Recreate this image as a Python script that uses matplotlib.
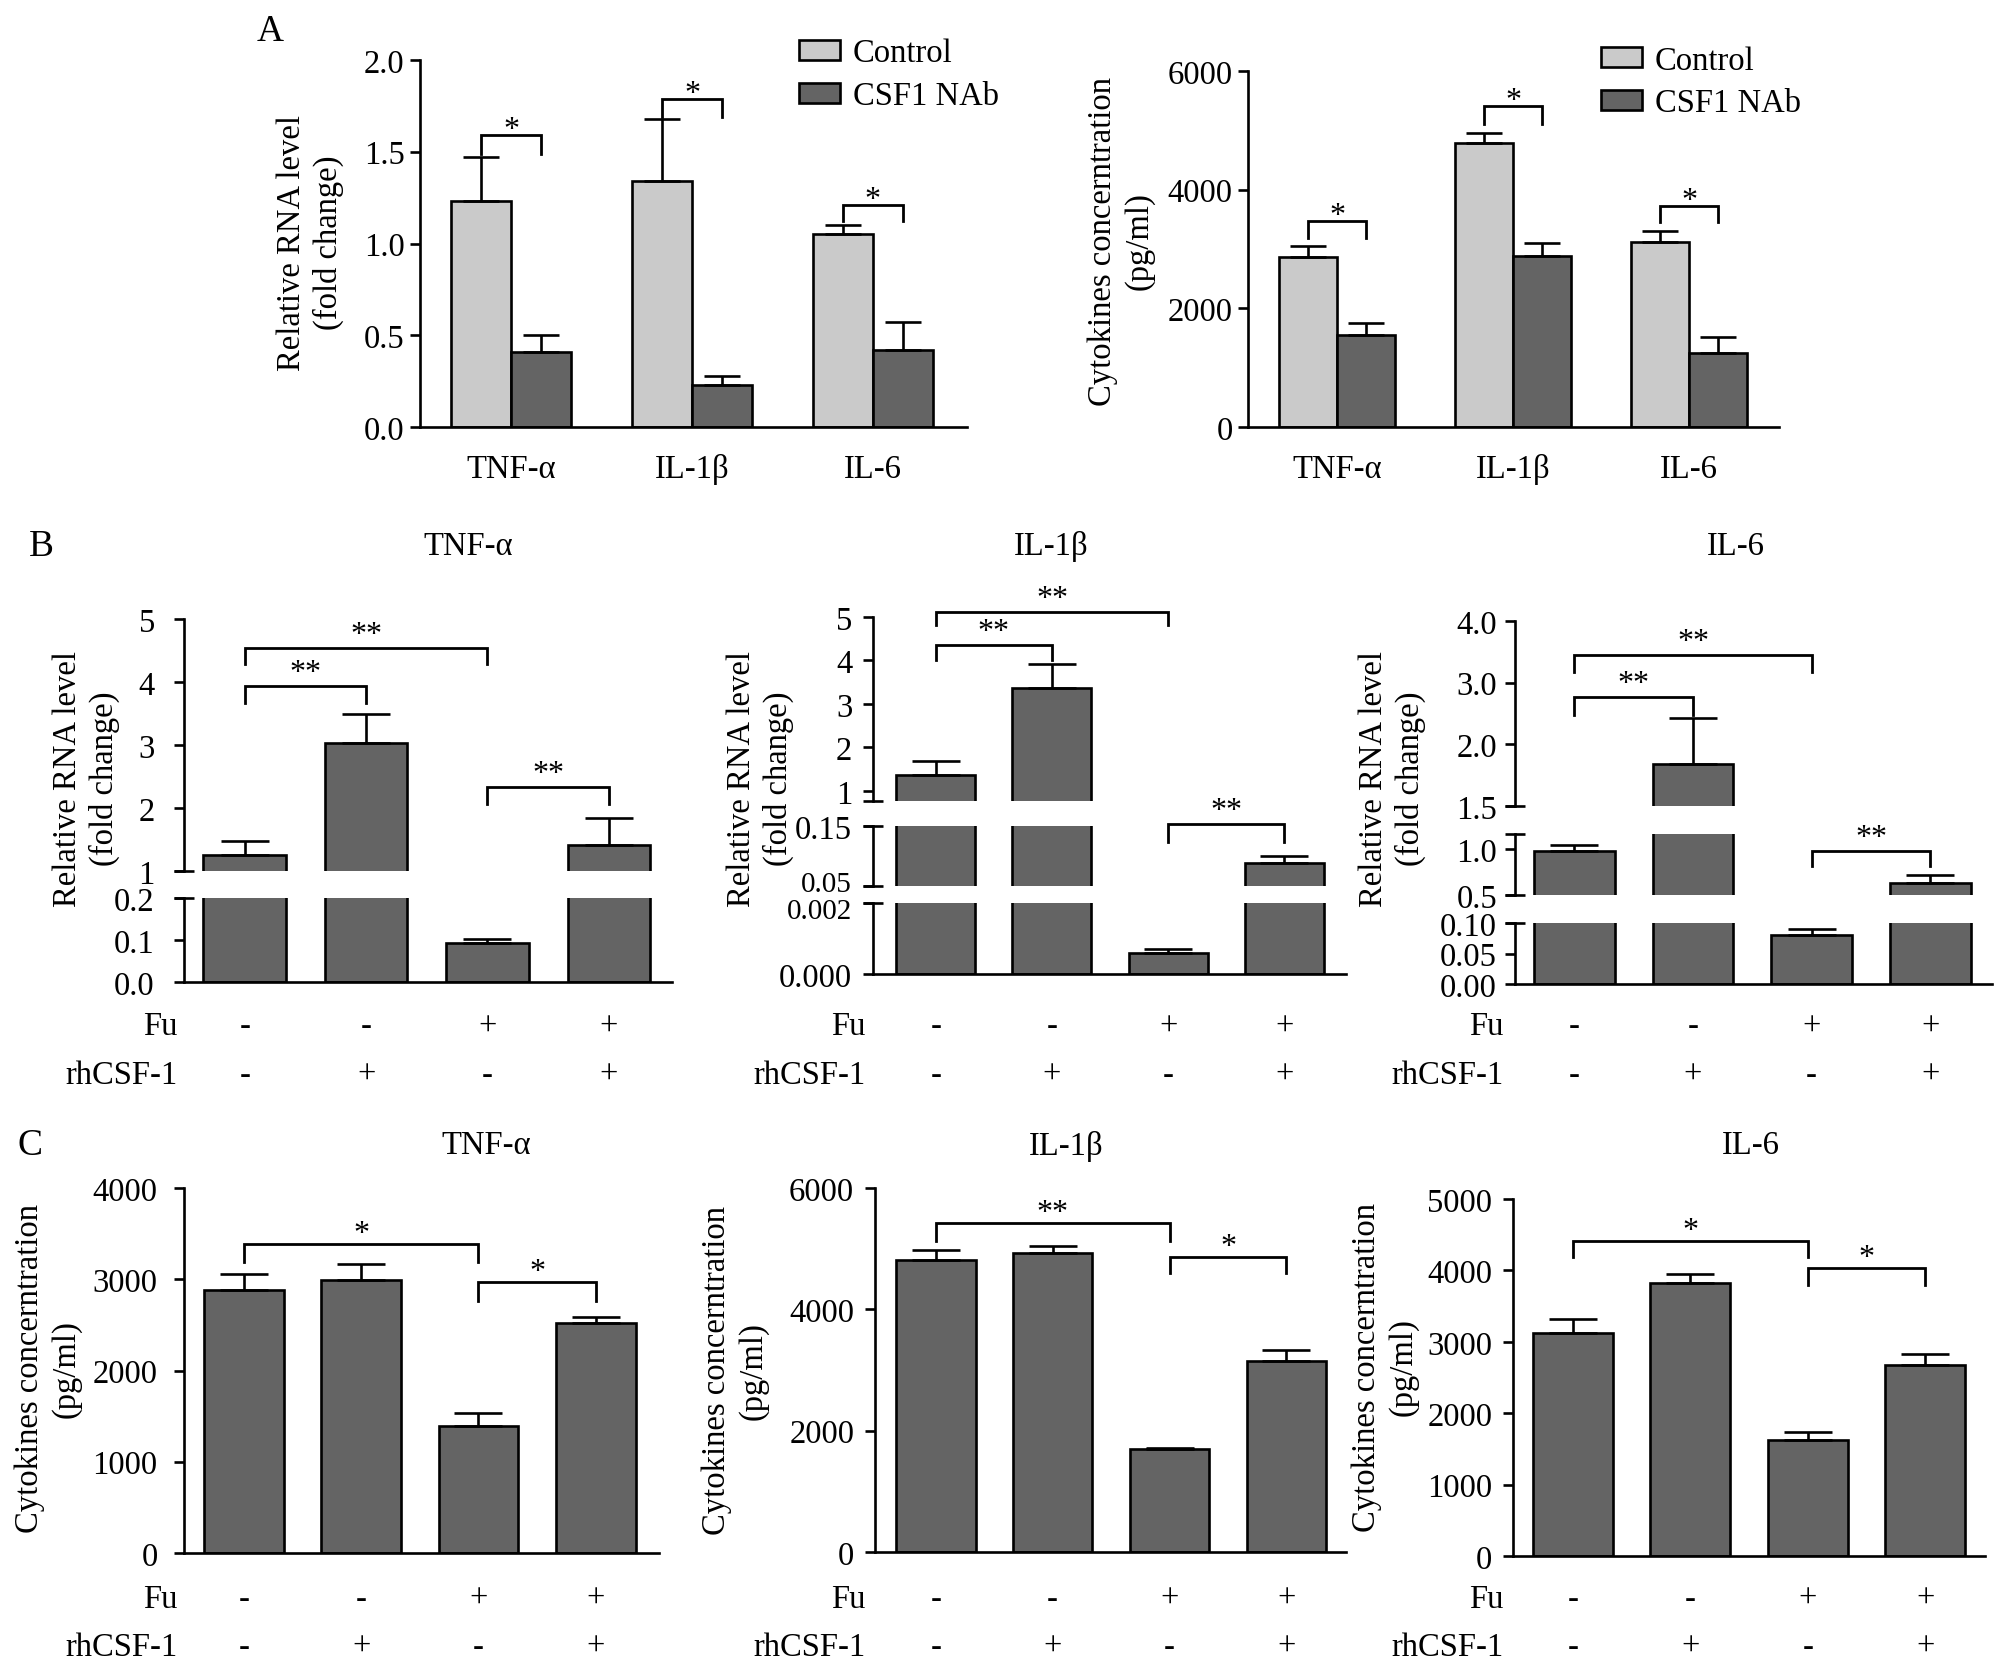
import numpy as np
import matplotlib.pyplot as plt
from matplotlib.ticker import FixedLocator
from matplotlib.transforms import blended_transform_factory, ScaledTranslation

plt.rcParams['font.family'] = ['Liberation Serif', 'DejaVu Serif']
plt.rcParams['font.size'] = 23.5

# ---- data ----
genes = ['TNF-α', 'IL-1β', 'IL-6']
fu = ['-', '-', '+', '+']
rh = ['-', '+', '-', '+']

# A: Control vs CSF1 NAb
rna_ctrl = [1.23, 1.34, 1.05]
rna_ctrl_err = [0.24, 0.34, 0.05]
rna_nab = [0.41, 0.23, 0.42]
rna_nab_err = [0.09, 0.05, 0.15]
rna_br_top = [1.59, 1.79, 1.21]
rna_br_leg = [1.49, 1.69, 1.12]

cyt_ctrl = [2870, 4790, 3115]
cyt_ctrl_err = [185, 170, 190]
cyt_nab = [1550, 2875, 1250]
cyt_nab_err = [195, 225, 270]
cyt_br_top = [3465, 5410, 3720]
cyt_br_leg = [3185, 5115, 3450]

# B: relative RNA level, broken axes
b_tnf = [1.26, 3.03, 0.092, 1.41]
b_tnf_err = [0.22, 0.46, 0.011, 0.43]
b_il1 = [1.37, 3.36, 0.0006, 0.089]
b_il1_err = [0.31, 0.56, 0.0001, 0.011]
b_il6 = [0.98, 1.84, 0.080, 0.627]
b_il6_err = [0.06, 0.59, 0.010, 0.088]

# C: cytokine concentration
c_tnf = [2880, 2995, 1390, 2520]
c_tnf_err = [180, 175, 145, 70]
c_il1 = [4805, 4935, 1690, 3155]
c_il1_err = [165, 115, 30, 180]
c_il6 = [3125, 3830, 1630, 2680]
c_il6_err = [190, 120, 100, 150]

LIGHT = '#cacaca'
DARK = '#646464'
LW = 1.9
W, H = 2008, 1674
fig = plt.figure(figsize=(W / 100, H / 100), dpi=100)


def box(x0, x1, ytop, ybot):
    return [x0 / W, 1 - ybot / H, (x1 - x0) / W, (ybot - ytop) / H]


def style(ax, bottom=True, pad=4):
    ax.spines['top'].set_visible(False)
    ax.spines['right'].set_visible(False)
    ax.spines['left'].set_linewidth(LW)
    ax.spines['bottom'].set_linewidth(LW)
    ax.spines['bottom'].set_visible(bottom)
    ax.tick_params(axis='y', direction='out', length=7, width=LW, pad=pad)
    ax.tick_params(axis='y', which='minor', direction='inout', length=14, width=LW)
    ax.tick_params(axis='x', length=0)
    ax.patch.set_alpha(0)


def bracket(ax, x1, x2, top, leg, star, off):
    ax.plot([x1, x1, x2, x2], [leg, top, top, leg], color='black', lw=2.0,
            clip_on=False, solid_joinstyle='miter')
    ax.annotate(star, ((x1 + x2) / 2, top), xytext=(0, off),
                textcoords='offset pixels', ha='center', va='baseline',
                fontsize=23, annotation_clip=False)


def ylab(x, y, s):
    fig.text(x / W, 1 - y / H, s, rotation=90, ha='center', va='center',
             linespacing=1.25, multialignment='center')


def rows(ax, lab_right, y1, y2):
    tr = blended_transform_factory(ax.transData, fig.transFigure)
    for i in range(4):
        ax.text(i, 1 - y1 / H, fu[i], transform=tr, ha='center', va='center')
        ax.text(i, 1 - y2 / H, rh[i], transform=tr, ha='center', va='center')
    fig.text(lab_right / W, 1 - y1 / H, 'Fu', ha='right', va='center')
    fig.text(lab_right / W, 1 - y2 / H, 'rhCSF-1', ha='right', va='center')


# ---- panel A ----
def panel_a(rect, xlim, ctrl, ce, nab, ne, ylim, ticks, fmt, btop, bleg, leg_xy):
    ax = fig.add_axes(rect)
    x = np.arange(3)
    w = 0.33
    ax.bar(x - w / 2, ctrl, w, color=LIGHT, edgecolor='black', lw=LW, label='Control')
    ax.bar(x + w / 2, nab, w, color=DARK, edgecolor='black', lw=LW, label='CSF1 NAb')
    ax.errorbar(x - w / 2, ctrl, yerr=[np.zeros(3), ce], fmt='none', ecolor='black',
                elinewidth=LW, capsize=13, capthick=LW)
    ax.errorbar(x + w / 2, nab, yerr=[np.zeros(3), ne], fmt='none', ecolor='black',
                elinewidth=LW, capsize=13, capthick=LW)
    for i in range(3):
        bracket(ax, x[i] - w / 2, x[i] + w / 2, btop[i], bleg[i], '*', -2)
    ax.set_xlim(xlim)
    ax.set_ylim(ylim)
    ax.set_yticks(ticks, [fmt % t for t in ticks])
    ax.set_xticks(x, genes)
    style(ax)
    ax.tick_params(axis='x', pad=19)
    ax.legend(loc='upper left', bbox_to_anchor=(leg_xy[0] / W, 1 - leg_xy[1] / H),
              bbox_transform=fig.transFigure, frameon=False, borderpad=0,
              borderaxespad=0, handlelength=1.25, handleheight=0.55,
              handletextpad=0.4, labelspacing=0.38)
    return ax


panel_a(box(420, 967, 61, 428), (-0.503, 2.52), rna_ctrl, rna_ctrl_err, rna_nab,
        rna_nab_err, (0, 2.0), [0, 0.5, 1.0, 1.5, 2.0], '%.1f', rna_br_top, rna_br_leg,
        (799, 39))
ylab(310, 243, 'Relative RNA level\n(fold change)')

panel_a(box(1248, 1779, 72, 428), (-0.506, 2.51), cyt_ctrl, cyt_ctrl_err, cyt_nab,
        cyt_nab_err, (0, 6000), [0, 2000, 4000, 6000], '%d', cyt_br_top, cyt_br_leg,
        (1601, 46))
ylab(1121, 241, 'Cytokines concerntration\n(pg/ml)')


# ---- panel B (broken y axes) ----
def fwd(y):
    y = np.asarray(y, dtype=float)
    return np.where(y < 2, (y - 1.5) / 0.5, y - 1.0)


def inv(t):
    t = np.asarray(t, dtype=float)
    return np.where(t < 1, 1.5 + 0.5 * t, t + 1.0)


def panel_b(x0, x1, xlim, vals, errs, segs, brs, pad):
    x = np.arange(4)
    n = len(segs)
    axes = []
    for k, (ytop, ybot, lim, ticks, fmt, scale) in enumerate(segs):
        ax = fig.add_axes(box(x0, x1, ytop, ybot))
        if scale:
            ax.set_yscale('function', functions=(fwd, inv))
        ax.bar(x, vals, 0.68, color=DARK, edgecolor='black', lw=LW)
        ax.errorbar(x, vals, yerr=[np.zeros(4), errs], fmt='none', ecolor='black',
                    elinewidth=LW, capsize=17, capthick=LW)
        ax.set_xlim(xlim)
        ax.set_ylim(lim)
        ax.set_yticks(ticks, [fmt % t for t in ticks])
        ends = []
        if k > 0:
            ends.append(lim[1])
        if k < n - 1:
            ends.append(lim[0])
        ax.yaxis.set_minor_locator(FixedLocator(ends))
        ax.yaxis.remove_overlapping_locs = False
        ax.set_xticks([])
        style(ax, bottom=(k == n - 1), pad=pad)
        axes.append(ax)
    for seg, i, j, top, leg, star in brs:
        bracket(axes[seg], i, j, top, leg, star, 6)
    return axes


ax = panel_b(184, 672, (-0.50, 3.52), b_tnf, b_tnf_err,
             [(620, 872, (1, 5), [1, 2, 3, 4, 5], '%d', False),
              (899, 983, (0, 0.2), [0, 0.1, 0.2], '%.1f', False)],
             [(0, 0, 2, 4.54, 4.28, '**'), (0, 0, 1, 3.94, 3.67, '**'),
              (0, 2, 3, 2.33, 2.06, '**')], 14)
rows(ax[-1], 178, 1027, 1076)
ylab(86, 779, 'Relative RNA level\n(fold change)')

ax = panel_b(873, 1346, (-0.54, 3.53), b_il1, b_il1_err,
             [(618, 802, (0.77, 5), [1, 2, 3, 4, 5], '%d', False),
              (827, 887, (0.05, 0.15), [0.05, 0.15], '%.2f', False),
              (904, 975, (0, 0.002), [0, 0.002], '%.3f', False)],
             [(0, 0, 2, 5.12, 4.82, '**'), (0, 0, 1, 4.35, 4.0, '**'),
              (1, 2, 3, 0.153, 0.123, '**')], 8)
# the 0.05 and 0.002 labels sit very close: nudge them apart a little
lab05 = ax[1].get_yticklabels()[0]
lab05.set_fontsize(21)
lab05.set_transform(lab05.get_transform() + ScaledTranslation(0, 5 / 100, fig.dpi_scale_trans))
lab002 = ax[2].get_yticklabels()[1]
lab002.set_fontsize(21)
lab002.set_transform(lab002.get_transform() + ScaledTranslation(0, -5 / 100, fig.dpi_scale_trans))
rows(ax[-1], 866, 1027, 1076)
ylab(760, 779, 'Relative RNA level\n(fold change)')

ax = panel_b(1515, 1992, (-0.50, 3.52), b_il6, b_il6_err,
             [(622, 807, (1.5, 4.0), [1.5, 2.0, 3.0, 4.0], '%.1f', True),
              (835, 896, (0.5, 1.165), [0.5, 1.0], '%.1f', False),
              (924, 985, (0, 0.1), [0, 0.05, 0.1], '%.2f', False)],
             [(0, 0, 2, 3.45, 3.17, '**'), (0, 0, 1, 2.76, 2.48, '**'),
              (1, 2, 3, 0.98, 0.82, '**')], 6)
rows(ax[-1], 1504, 1027, 1076)
ylab(1392, 779, 'Relative RNA level\n(fold change)')


# ---- panel C ----
def panel_c(x0, x1, ytop, ybot, xlim, vals, errs, ylim, step, brs, pad):
    ax = fig.add_axes(box(x0, x1, ytop, ybot))
    x = np.arange(4)
    ax.bar(x, vals, 0.68, color=DARK, edgecolor='black', lw=LW)
    ax.errorbar(x, vals, yerr=[np.zeros(4), errs], fmt='none', ecolor='black',
                elinewidth=LW, capsize=17, capthick=LW)
    ax.set_xlim(xlim)
    ax.set_ylim(ylim)
    ticks = np.arange(0, ylim[1] + 1, step)
    ax.set_yticks(ticks, ['%d' % t for t in ticks])
    ax.set_xticks([])
    style(ax, pad=pad)
    for i, j, top, leg, star in brs:
        bracket(ax, i, j, top, leg, star, 3)
    return ax


ax = panel_c(184, 659, 1189, 1554, (-0.51, 3.54), c_tnf, c_tnf_err, (0, 4000), 1000,
             [(0, 2, 3385, 3190, '*'), (2, 3, 2965, 2765, '*')], 12)
rows(ax, 178, 1600, 1648)
ylab(48, 1369, 'Cytokines concerntration\n(pg/ml)')

ax = panel_c(875, 1346, 1189, 1553, (-0.52, 3.51), c_il1, c_il1_err, (0, 6000), 2000,
             [(0, 2, 5415, 5125, '**'), (2, 3, 4865, 4600, '*')], 8)
rows(ax, 866, 1600, 1648)
ylab(735, 1371, 'Cytokines concerntration\n(pg/ml)')

ax = panel_c(1513, 1985, 1200, 1557, (-0.51, 3.51), c_il6, c_il6_err, (0, 5000), 1000,
             [(0, 2, 4410, 4185, '*'), (2, 3, 4030, 3800, '*')], 8)
rows(ax, 1504, 1600, 1648)
ylab(1385, 1367, 'Cytokines concerntration\n(pg/ml)')

# ---- titles and panel letters ----
for x, y, s in [(468, 547, 'TNF-α'), (1051, 547, 'IL-1β'), (1736, 547, 'IL-6'),
                (486, 1146, 'TNF-α'), (1066, 1146, 'IL-1β'), (1751, 1146, 'IL-6')]:
    fig.text(x / W, 1 - y / H, s, ha='center', va='center')
for x, y, s in [(270, 32, 'A'), (41, 547, 'B'), (30, 1146, 'C')]:
    fig.text(x / W, 1 - y / H, s, ha='center', va='center', fontsize=27)

fig.savefig('out.png', dpi=100)
